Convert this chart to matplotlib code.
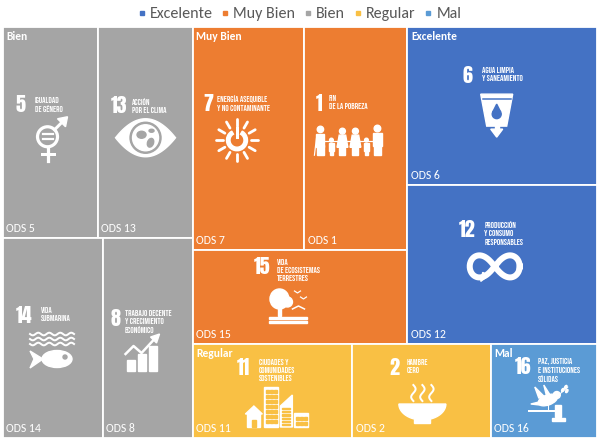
import matplotlib
matplotlib.use('Agg')
import matplotlib.pyplot as plt
import numpy as np
from matplotlib import font_manager
from matplotlib.patches import Rectangle, Circle, Polygon, Ellipse, Wedge
from matplotlib.lines import Line2D

# ---- datos ----
categorias = ['Excelente', 'Muy Bien', 'Bien', 'Regular', 'Mal']
colores = ['#4472C4', '#ED7D31', '#A5A5A5', '#F9C044', '#5B9BD5']

ods_bien = [5, 13, 14, 8]
val_bien = [20, 20, 20, 18]
ods_muy_bien = [7, 1, 15]
val_muy_bien = [25, 23, 20]
ods_excelente = [6, 12]
val_excelente = [30, 30]
ods_regular = [11, 2]
val_regular = [15, 13]
ods_mal = [16]
val_mal = [10]

titulos = {
    5: 'IGUALDAD\nDE GÉNERO',
    13: 'ACCIÓN\nPOR EL CLIMA',
    7: 'ENERGÍA ASEQUIBLE\nY NO CONTAMINANTE',
    1: 'FIN\nDE LA POBREZA',
    6: 'AGUA LIMPIA\nY SANEAMIENTO',
    12: 'PRODUCCIÓN\nY CONSUMO\nRESPONSABLES',
    15: 'VIDA\nDE ECOSISTEMAS\nTERRESTRES',
    14: 'VIDA\nSUBMARINA',
    8: 'TRABAJO DECENTE\nY CRECIMIENTO\nECONÓMICO',
    11: 'CIUDADES Y\nCOMUNIDADES\nSOSTENIBLES',
    2: 'HAMBRE\nCERO',
    16: 'PAZ, JUSTICIA\nE INSTITUCIONES\nSÓLIDAS',
}

grupos = {
    'Bien': (ods_bien, val_bien),
    'Muy Bien': (ods_muy_bien, val_muy_bien),
    'Excelente': (ods_excelente, val_excelente),
    'Regular': (ods_regular, val_regular),
    'Mal': (ods_mal, val_mal),
}

# filas dentro de cada grupo (como lo acomodó Excel)
filas = {
    'Bien': [[0, 1], [2, 3]],
    'Muy Bien': [[0, 1], [2]],
    'Excelente': [[0], [1]],
    'Regular': [[0, 1]],
    'Mal': [[0]],
}


def hay_fuente(fam):
    try:
        font_manager.findfont(font_manager.FontProperties(family=fam), fallback_to_default=False)
        return True
    except Exception:
        return False


fuente_txt = next((f for f in ['Carlito', 'Lato', 'Open Sans'] if hay_fuente(f)), 'DejaVu Sans')
fuente_num = next((f for f in ['Anton', 'Bebas Neue', 'Oswald'] if hay_fuente(f)), 'DejaVu Sans')
fuente_tit = next((f for f in ['Bebas Neue', 'Anton', 'Oswald'] if hay_fuente(f)), 'DejaVu Sans')
W = 'white'
PX = 0.72  # px -> pt


def partir(rect, valores, eje):
    x, y, w, h = rect
    tot = float(sum(valores))
    out = []
    pos = 0.0
    for v in valores:
        f = v / tot
        if eje == 'x':
            out.append((x + pos * w, y, f * w, h))
        else:
            out.append((x, y + pos * h, w, f * h))
        pos += f
    return out


# ---- pictogramas simplificados ----
def p_genero(ax, x, y, bg):
    cx, cy = x - 3, y - 3
    ax.add_patch(Circle((cx, cy), 10, fill=False, ec=W, lw=3.2 * PX))
    ax.plot([cx + 7, cx + 15], [cy - 7, cy - 15], color=W, lw=3 * PX)
    ax.add_patch(Polygon([(cx + 20, cy - 20), (cx + 10, cy - 18), (cx + 18, cy - 10)], color=W))
    ax.plot([cx, cx], [cy + 10, cy + 24], color=W, lw=3.2 * PX)
    ax.plot([cx - 6, cx + 6], [cy + 17, cy + 17], color=W, lw=3 * PX)
    ax.plot([cx - 5, cx + 5], [cy - 2.5, cy - 2.5], color=W, lw=2.2 * PX)
    ax.plot([cx - 5, cx + 5], [cy + 2.5, cy + 2.5], color=W, lw=2.2 * PX)


def p_ojo(ax, x, y, bg):
    t = np.linspace(-1, 1, 60)
    xs = x + 30 * t
    arriba = y - 19 * (1 - t ** 2)
    abajo = y + 19 * (1 - t ** 2)
    pts = np.column_stack([np.r_[xs, xs[::-1]], np.r_[arriba, abajo[::-1]]])
    ax.add_patch(Polygon(pts, color=W))
    ax.add_patch(Circle((x, y), 15.5, color=bg))
    ax.add_patch(Circle((x, y), 13, color=W))
    ax.add_patch(Ellipse((x - 4, y - 3), 9, 7, color=bg))
    ax.add_patch(Ellipse((x + 5, y + 5), 6, 9, angle=20, color=bg))
    ax.add_patch(Ellipse((x + 6, y - 7), 5, 3, color=bg))


def p_sol(ax, x, y, bg):
    ax.add_patch(Wedge((x, y), 10.5, -60, 240, width=3.5, color=W))
    ax.plot([x, x], [y - 12, y - 3], color=W, lw=3 * PX)
    for a in np.deg2rad(np.arange(0, 360, 30)):
        ax.plot([x + 14 * np.cos(a), x + 21 * np.cos(a)], [y + 14 * np.sin(a), y + 21 * np.sin(a)],
                color=W, lw=2.8 * PX, solid_capstyle='round')


def p_familia(ax, x, y, bg):
    base = y + 15
    figuras = [(-28, 29, 0), (-17, 17, 0), (-6, 27, 1), (7, 27, 1), (18, 17, 0), (29, 30, 0)]
    for dx, h, vestido in figuras:
        cx = x + dx
        r = 0.11 * h
        ax.add_patch(Circle((cx, base - h + r), r, color=W))
        top = base - h + 2 * r + 1
        if vestido:
            ax.add_patch(Polygon([(cx - 0.12 * h, top), (cx + 0.12 * h, top),
                                  (cx + 0.2 * h, top + 0.45 * h), (cx - 0.2 * h, top + 0.45 * h)], color=W))
        else:
            ax.add_patch(Rectangle((cx - 0.14 * h, top), 0.28 * h, 0.45 * h, color=W))
        ax.add_patch(Rectangle((cx - 0.11 * h, top + 0.4 * h), 0.22 * h, base - top - 0.4 * h, color=W))
    ax.plot([x - 28, x + 29], [y + 1, y + 1], color=W, lw=1.2 * PX)
    ax.plot([x - 34, x - 32], [y + 15, y - 2], color=W, lw=1.2 * PX)


def p_agua(ax, x, y, bg):
    ax.add_patch(Polygon([(x - 16, y - 21), (x + 16, y - 21), (x + 10, y + 11), (x - 10, y + 11)], color=W))
    ax.plot([x - 14, x + 14], [y - 16, y - 16], color=bg, lw=1.5 * PX)
    ax.add_patch(Circle((x, y - 1), 4.5, color=bg))
    ax.add_patch(Polygon([(x - 4, y - 3), (x + 4, y - 3), (x, y - 11)], color=bg))
    ax.add_patch(Rectangle((x - 2, y + 10), 4, 5, color=W))
    ax.add_patch(Polygon([(x - 6, y + 14), (x + 6, y + 14), (x, y + 22)], color=W))


def p_infinito(ax, x, y, bg):
    t = np.linspace(0, 2 * np.pi, 300)
    a = 25
    xs = x + a * np.cos(t) / (1 + np.sin(t) ** 2)
    ys = y + 1.25 * a * np.sin(t) * np.cos(t) / (1 + np.sin(t) ** 2)
    ax.plot(xs, ys, color=W, lw=6 * PX)
    ax.add_patch(Polygon([(x - 6, y + 9), (x - 14, y + 15), (x - 12, y + 6)], color=W))


def p_tierra(ax, x, y, bg):
    ax.add_patch(Ellipse((x - 9, y - 6), 19, 20, color=W))
    ax.add_patch(Circle((x - 1, y - 3), 5, color=W))
    ax.add_patch(Rectangle((x - 10.5, y + 2), 3, 9, color=W))
    ax.add_patch(Rectangle((x - 19, y + 12), 38, 2.5, color=W))
    ax.add_patch(Rectangle((x - 19, y + 16), 38, 2.5, color=W))
    for bx, by in [(x + 9, y - 14), (x + 15, y - 8)]:
        ax.plot([bx - 3, bx, bx + 3], [by, by + 2, by], color=W, lw=1.2 * PX)
    ax.plot([x + 4, x + 10, x + 16], [y + 4, y + 1, y + 4], color=W, lw=1.5 * PX)


def p_mar(ax, x, y, bg):
    xs = np.linspace(x - 22, x + 22, 80)
    for yy in [y - 16, y - 11, y - 6]:
        ax.plot(xs, yy + 1.3 * np.sin((xs - x) / 44 * 2 * np.pi * 4), color=W, lw=2 * PX)
    ax.add_patch(Ellipse((x + 5, y + 9), 30, 17, color=W))
    ax.add_patch(Polygon([(x - 9, y + 9), (x - 22, y + 1), (x - 18, y + 9), (x - 22, y + 18)], color=W))
    ax.add_patch(Circle((x + 13, y + 7), 2, color=bg))


def p_trabajo(ax, x, y, bg):
    base = y + 18
    for bx, h in [(x - 16, 11), (x - 5, 17), (x + 6, 25)]:
        ax.add_patch(Rectangle((bx, base - h), 8, h, color=W))
    ax.plot([x - 17, x - 9, x - 1, x + 11], [y + 1, y - 7, y, y - 13], color=W, lw=2.5 * PX)
    ax.add_patch(Polygon([(x + 17, y - 19), (x + 8, y - 16), (x + 14, y - 10)], color=W))


def p_ciudad(ax, x, y, bg):
    base = y + 20
    ax.add_patch(Rectangle((x - 30, y + 6), 13, 14, color=W))
    ax.add_patch(Polygon([(x - 32, y + 7), (x - 23.5, y - 1), (x - 15, y + 7)], color=W))
    ax.add_patch(Rectangle((x - 25.5, y + 13), 4, 7, color=bg))
    ax.add_patch(Rectangle((x - 13, y - 20), 14, 40, color=W))
    for i in range(3):
        for j in range(7):
            ax.add_patch(Rectangle((x - 11 + i * 4, y - 17 + j * 5), 2.2, 2.5, color=bg))
    ax.add_patch(Polygon([(x + 3, base), (x + 3, y - 1), (x + 15, y - 12), (x + 15, base)], color=W))
    for j in range(6):
        ax.add_patch(Rectangle((x + 5, y + 1 + j * 3.2), 8, 1.2, color=bg))
    ax.add_patch(Rectangle((x + 17, y + 6), 14, 14, color=W))
    for i in range(3):
        for j in range(2):
            ax.add_patch(Rectangle((x + 19 + i * 4, y + 10 + j * 5), 2.2, 2.5, color=bg))


def p_hambre(ax, x, y, bg):
    t = np.linspace(0, np.pi, 60)
    ax.add_patch(Polygon(np.column_stack([x + 23.5 * np.cos(t), y + 16 * np.sin(t)]), color=W))
    ax.add_patch(Rectangle((x - 8, y + 15), 16, 4, color=W))
    ys = np.linspace(y - 19, y - 3, 40)
    for sx in [x - 9, x, x + 9]:
        ax.plot(sx + 2.2 * np.sin((ys - ys[0]) / 16 * 2 * np.pi), ys, color=W, lw=2 * PX)


def p_paz(ax, x, y, bg):
    ax.add_patch(Ellipse((x - 1, y - 2), 20, 10, angle=-20, color=W))
    ax.add_patch(Polygon([(x - 3, y - 4), (x - 14, y - 15), (x - 10, y - 4)], color=W))
    ax.add_patch(Polygon([(x - 2, y - 5), (x - 5, y - 17), (x + 2, y - 6)], color=W))
    ax.add_patch(Circle((x + 8, y - 7), 3.5, color=W))
    ax.add_patch(Polygon([(x - 10, y), (x - 18, y + 2), (x - 9, y + 3)], color=W))
    ax.plot([x + 11, x + 19], [y - 8, y - 15], color=W, lw=1 * PX)
    for lx, ly in [(x + 14, y - 12), (x + 17, y - 15), (x + 18, y - 11)]:
        ax.add_patch(Ellipse((lx, ly), 2, 3.5, angle=30, color=W))
    ax.plot([x - 1, x - 1], [y + 2, y + 8], color=W, lw=1 * PX)
    ax.plot([x - 20, x + 7], [y + 9, y + 9], color=W, lw=2 * PX)
    ax.add_patch(Rectangle((x + 6, y + 3), 6, 12, color=W))
    ax.add_patch(Rectangle((x + 3, y + 16), 13, 2.5, color=W))


pictos = {5: p_genero, 13: p_ojo, 7: p_sol, 1: p_familia, 6: p_agua, 12: p_infinito,
          15: p_tierra, 14: p_mar, 8: p_trabajo, 11: p_ciudad, 2: p_hambre, 16: p_paz}

# posición del icono respecto al centro de cada celda: (num dx, num dy, título dx, picto dx, picto dy)
icono_pos = {
    5: (-34.5, -27.5, 17, 0.5, 7.5),
    13: (-34.5, -26.5, 19, 0.5, 5.5),
    7: (-45.5, -35.5, 12, -11.5, 1.5),
    1: (-40.5, -35.5, 11, -7.5, 1.5),
    6: (-39.5, -31, 17, -5.5, 9),
    12: (-43.5, -35, 23, -7.5, 2),
    15: (-46.5, -30, 21, -11.5, 8),
    14: (-36.5, -22.5, 22, -0.5, 12.5),
    8: (-37, -19.5, 12, -5, 15.5),
    11: (-36, -23.5, 20, 5, 16.5),
    2: (-32, -23.5, 15, 1, 13.5),
    16: (-29, -24.5, 21, 5, 11.5),
}

# ---- figura ----
fig = plt.figure(figsize=(5.99, 4.41), dpi=100)
ax = fig.add_axes([0, 0, 1, 1])
ax.set_xlim(0, 599)
ax.set_ylim(441, 0)
ax.axis('off')

tot = {g: sum(v) for g, (_, v) in grupos.items()}
area = (2.5, 27, 594.5, 410.5)
r_bien, r_resto = partir(area, [tot['Bien'], tot['Muy Bien'] + tot['Excelente'] + tot['Regular'] + tot['Mal']], 'x')
r_sup, r_inf = partir(r_resto, [tot['Muy Bien'] + tot['Excelente'], tot['Regular'] + tot['Mal']], 'y')
r_mb, r_exc = partir(r_sup, [tot['Muy Bien'], tot['Excelente']], 'x')
r_reg, r_mal = partir(r_inf, [tot['Regular'], tot['Mal']], 'x')
rect_grupo = {'Bien': r_bien, 'Muy Bien': r_mb, 'Excelente': r_exc, 'Regular': r_reg, 'Mal': r_mal}

for g, (ods, vals) in grupos.items():
    color = colores[categorias.index(g)]
    gr = rect_grupo[g]
    rows = filas[g]
    r_filas = partir(gr, [sum(vals[i] for i in fila) for fila in rows], 'y')
    for fila, rf in zip(rows, r_filas):
        celdas = partir(rf, [vals[i] for i in fila], 'x')
        for i, (cx0, cy0, cw, ch) in zip(fila, celdas):
            ax.add_patch(Rectangle((cx0, cy0), cw, ch, facecolor=color, edgecolor=W, lw=1.3))
            n = ods[i]
            ax.text(cx0 + 3.5, cy0 + ch - 9.5, f'ODS {n}', color=W, fontsize=8.5,
                    family=fuente_txt, va='center', ha='left')
            mx, my = cx0 + cw / 2, cy0 + ch / 2
            dx, dy, tx, px, py = icono_pos[n]
            ax.text(mx + dx, my + dy, str(n), color=W, fontsize=14.5,
                    family=fuente_num, va='center', ha='left')
            ax.text(mx + dx + tx + 2.5, my + dy - 8, titulos[n], color=W, fontsize=6,
                    family=fuente_tit, va='top', ha='left', linespacing=1.35)
            pictos[n](ax, mx + px, my + py, color)
    ax.text(gr[0] + 3.5, gr[1] + 10, g, color=W, fontsize=8.3, fontweight='bold',
            family=fuente_txt, va='center', ha='left')

handles = [Line2D([], [], marker='s', color=c, linestyle='none', markersize=3.5) for c in colores]
leg = ax.legend(handles, categorias, loc='upper center', bbox_to_anchor=(0.5, 0.998), ncol=5,
                frameon=False, handletextpad=0.25, columnspacing=0.55, handlelength=0.5,
                prop={'family': fuente_txt, 'size': 11.5}, borderaxespad=0)
for t in leg.get_texts():
    t.set_color('#595959')

fig.savefig('out.png', dpi=100)
